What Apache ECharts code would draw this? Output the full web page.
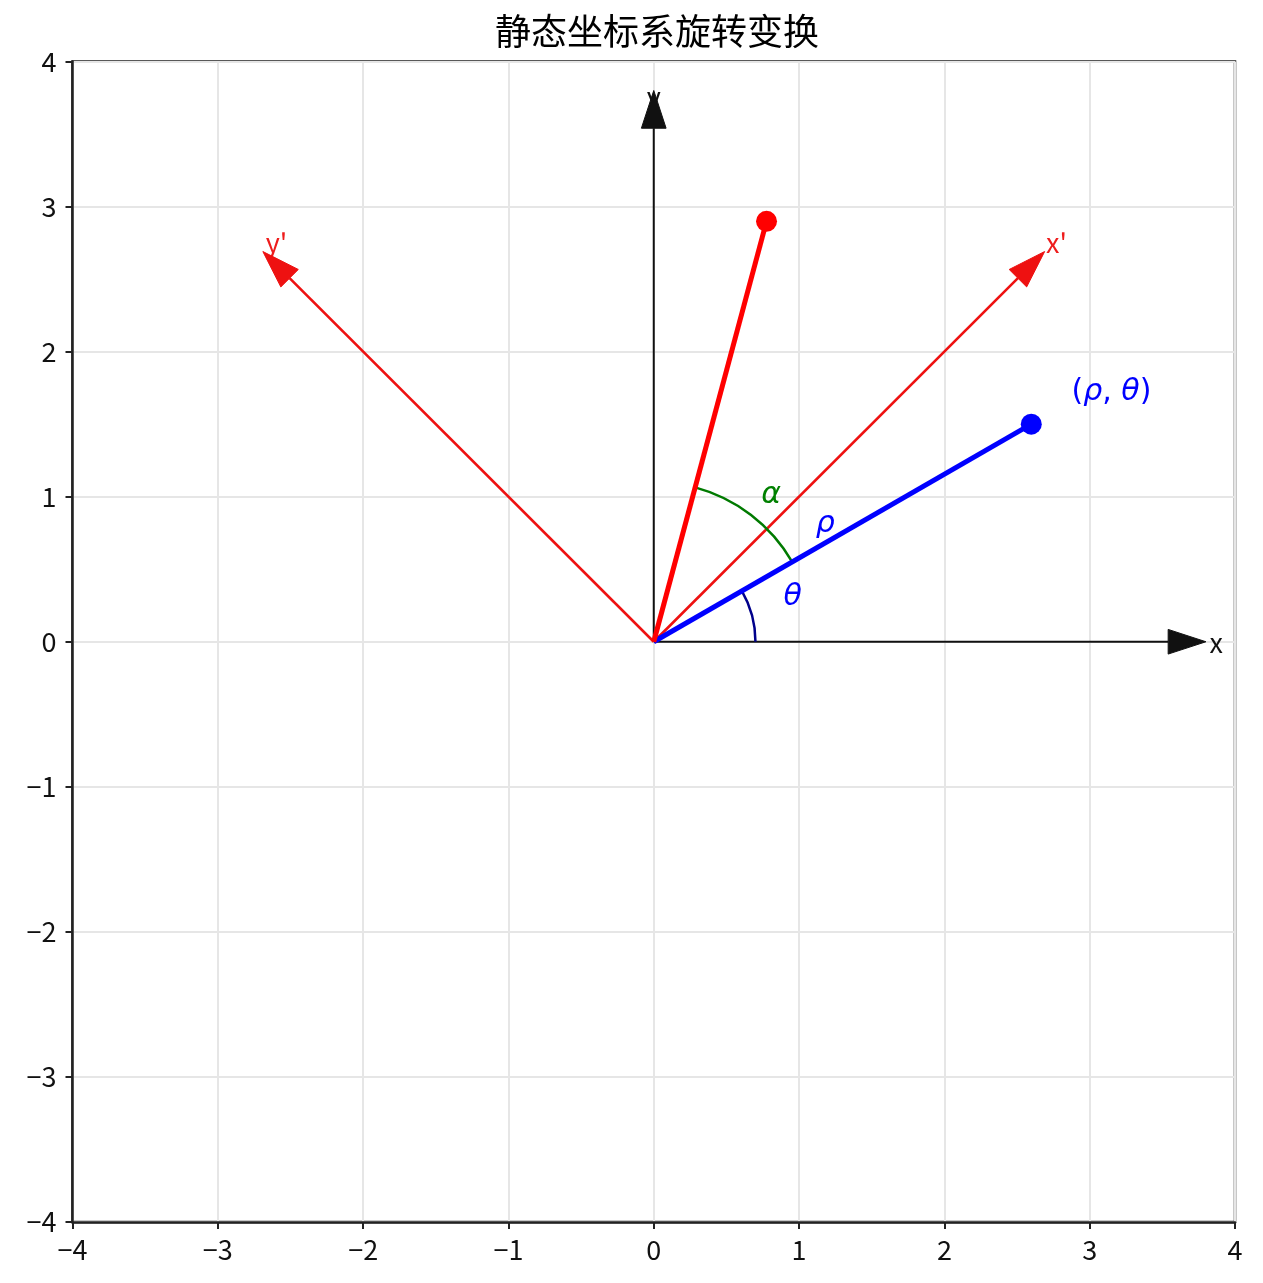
<!DOCTYPE html>
<html>
<head>
<meta charset="utf-8">
<script src="https://cdn.jsdelivr.net/npm/echarts@6/dist/echarts.min.js"></script>
<style>
  html, body { margin: 0; padding: 0; background: #fff; }
  #main { width: 1263px; height: 1283px; }
</style>
</head>
<body>
<div id="main"></div>
<script>
// data
const axisRange = [-4, 4];
const tickStep = 1;
const origin = [0, 0];
const bluePoint = [2.598, 1.5];     // (rho, theta)
const redPoint = [0.776, 2.898];    // rotated point
const axisArrowTips = [[3.8, 0], [0, 3.8]];
const primeArrowTips = [[2.69, 2.69], [-2.69, 2.69]];
// [cx, cy, radius, startDeg, endDeg]
const thetaArc = [[0, 0, 0.7, 0, 30]];
const alphaArc = [[0, 0, 1.1, 30, 75]];
const axisNames = ['x', 'y'];
const axisNamePos = [[3.87, -0.01], [0.0, 3.76]];
const primeNames = ["x'", "y'"];
const primeNamePos = [[2.7, 2.75], [-2.67, 2.75]];
const mathTexts = ['θ', 'α', 'ρ', '(ρ, θ)'];
const mathPos = [[0.956, 0.31], [0.808, 1.01], [1.18, 0.81], [3.15, 1.72]];
const mathColors = ['#0000ff', '#008000', '#0000ff', '#0000ff'];

const HEAD_LEN = 0.26;
const HEAD_W = 0.17;
const CJK = '"Noto Sans CJK SC", "DejaVu Sans", sans-serif';
const MATH = '"DejaVu Sans", sans-serif';

function arrowRender(color, lw) {
  return function (params, api) {
    const tx = api.value(0), ty = api.value(1);
    const len = Math.hypot(tx, ty);
    const ux = tx / len, uy = ty / len;
    const bx = tx - ux * HEAD_LEN, by = ty - uy * HEAD_LEN;
    const p0 = api.coord(origin);
    const pb = api.coord([bx, by]);
    const pt = api.coord([tx, ty]);
    const pl = api.coord([bx - uy * HEAD_W / 2, by + ux * HEAD_W / 2]);
    const pr = api.coord([bx + uy * HEAD_W / 2, by - ux * HEAD_W / 2]);
    return {
      type: 'group',
      children: [
        { type: 'line', shape: { x1: p0[0], y1: p0[1], x2: pb[0], y2: pb[1] },
          style: { stroke: color, lineWidth: lw } },
        { type: 'polygon', shape: { points: [pt, pl, pr] },
          style: { fill: color, stroke: color, lineWidth: 1 } }
      ]
    };
  };
}

function arcRender(color, lw) {
  return function (params, api) {
    const c = api.coord([api.value(0), api.value(1)]);
    const r = api.size([api.value(2), 0])[0];
    const a0 = api.value(3) * Math.PI / 180, a1 = api.value(4) * Math.PI / 180;
    return {
      type: 'arc',
      shape: { cx: c[0], cy: c[1], r: r, startAngle: -a1, endAngle: -a0, clockwise: true },
      style: { stroke: color, lineWidth: lw, fill: null }
    };
  };
}

function textRender(texts, colors, size, family, align) {
  return function (params, api) {
    const p = api.coord([api.value(0), api.value(1)]);
    const i = params.dataIndex;
    return {
      type: 'text',
      x: p[0], y: p[1],
      style: {
        text: texts[i],
        fill: Array.isArray(colors) ? colors[i] : colors,
        fontSize: size, fontFamily: family,
        align: align, verticalAlign: 'middle'
      }
    };
  };
}

// greek letters italic, punctuation upright (like mathtext)
function toRich(s) {
  return s.split('').map(c => /[α-ω]/.test(c) ? '{i|' + c + '}' : '{u|' + c + '}').join('');
}

function mathRender(params, api) {
  const p = api.coord([api.value(0), api.value(1)]);
  const i = params.dataIndex;
  const col = mathColors[i];
  return {
    type: 'text',
    x: p[0], y: p[1],
    style: {
      text: toRich(mathTexts[i]),
      align: 'center', verticalAlign: 'middle',
      rich: {
        i: { fontSize: 30, fontFamily: MATH, fontStyle: 'italic', fill: col, color: col },
        u: { fontSize: 30, fontFamily: MATH, fill: col, color: col }
      }
    }
  };
}

const chart = echarts.init(document.getElementById('main'), null, { renderer: 'canvas' });

const axisCommon = {
  type: 'value',
  min: axisRange[0],
  max: axisRange[1],
  interval: tickStep,
  axisLine: { show: true, onZero: false, lineStyle: { color: '#222', width: 2.5 } },
  axisTick: { show: true, inside: false, length: 7, lineStyle: { color: '#222', width: 2 } },
  axisLabel: {
    fontSize: 27, color: '#111', fontFamily: CJK,
    formatter: (v) => String(v).replace('-', '\u2212')
  },
  splitLine: { show: true, lineStyle: { color: '#e6e6e6', width: 2 } }
};

const option = {
  backgroundColor: '#fff',
  animation: false,
  title: {
    text: '静态坐标系旋转变换',
    left: 652, top: 8, textAlign: 'center',
    textStyle: { fontSize: 36, fontWeight: 'normal', color: '#000', fontFamily: CJK }
  },
  grid: {
    left: 72.5, right: 28, top: 61.5, bottom: 61,
    show: true, borderColor: '#222', borderWidth: 2.5
  },
  xAxis: Object.assign({}, axisCommon, {
    position: 'bottom',
    axisLabel: Object.assign({}, axisCommon.axisLabel, { margin: 14 })
  }),
  yAxis: Object.assign({}, axisCommon, {
    position: 'left',
    axisLabel: Object.assign({}, axisCommon.axisLabel, { margin: 16 })
  }),
  series: [
    {
      type: 'custom', name: 'axisNames', z: 1,
      renderItem: textRender(axisNames, '#111', 27, CJK, 'center'),
      data: axisNamePos
    },
    {
      type: 'custom', name: 'primeNames', z: 1,
      renderItem: textRender(primeNames, '#ee1c1c', 27, CJK, 'left'),
      data: primeNamePos
    },
    {
      type: 'custom', name: 'axes', z: 3,
      renderItem: arrowRender('#111', 2),
      data: axisArrowTips
    },
    {
      type: 'custom', name: 'rotatedAxes', z: 3,
      renderItem: arrowRender('#ee1111', 2.6),
      data: primeArrowTips
    },
    {
      type: 'custom', name: 'thetaArc', z: 4,
      renderItem: arcRender('#00008b', 2.5),
      data: thetaArc
    },
    {
      type: 'custom', name: 'alphaArc', z: 4,
      renderItem: arcRender('#007a00', 2.5),
      data: alphaArc
    },
    {
      type: 'line', name: 'rho', z: 5,
      data: [origin, bluePoint],
      showSymbol: false, symbol: 'none',
      lineStyle: { color: '#0000ff', width: 5 }
    },
    {
      type: 'line', name: 'rotated', z: 5,
      data: [origin, redPoint],
      showSymbol: false, symbol: 'none',
      lineStyle: { color: '#ff0000', width: 5 }
    },
    {
      type: 'scatter', name: 'points', z: 6,
      data: [
        { value: bluePoint, itemStyle: { color: '#0000ff', opacity: 1 } },
        { value: redPoint, itemStyle: { color: '#ff0000', opacity: 1 } }
      ],
      symbolSize: 21
    },
    {
      type: 'custom', name: 'mathLabels', z: 7,
      renderItem: mathRender,
      data: mathPos
    }
  ]
};

chart.setOption(option);
window.addEventListener('resize', chart.resize);
</script>
</body>
</html>
